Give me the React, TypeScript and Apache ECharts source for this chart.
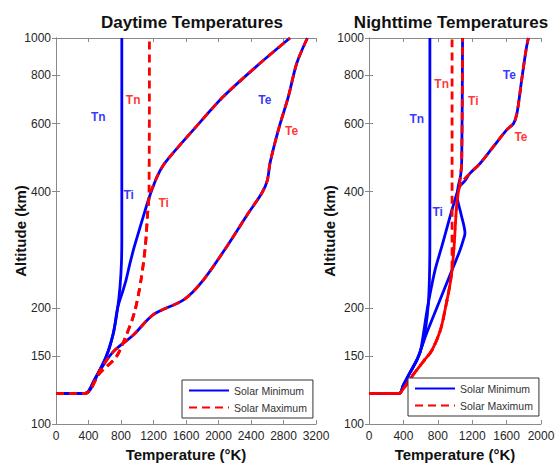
import React, { useEffect, useRef } from "react";
import * as echarts from "echarts";

const BLUE = "#0000ff";
const RED = "#ff0000";

// Each point: [temperature (K), altitude (km)]
const dayTnMin = [[0, 120], [360, 120], [472, 130], [615, 149], [706, 172], [759, 200], [788, 227], [805, 260], [810, 300], [810, 1000]];
const dayTiMin = [[0, 120], [360, 120], [472, 130], [615, 149], [706, 172], [759, 200], [825, 222], [862, 236], [911, 261], [964, 288], [1087, 352], [1150, 388], [1195, 412], [1250, 440], [1320, 468], [1403, 493], [1690, 578], [2060, 705], [2511, 860], [2880, 1000]];
const dayTeMin = [[0, 120], [357, 120], [542, 138], [706, 154], [952, 170], [1198, 192], [1575, 210], [1813, 236], [2101, 288], [2368, 352], [2532, 396], [2601, 428], [2634, 474], [2737, 578], [2860, 705], [2963, 860], [3094, 1000]];
const dayTnMax = [[0, 120], [360, 120], [533, 135], [739, 149], [841, 165], [964, 194], [1046, 236], [1099, 288], [1128, 352], [1145, 400], [1150, 1000]];
const dayTiMax = [[0, 120], [360, 120], [533, 135], [739, 149], [841, 165], [964, 194], [1046, 236], [1099, 288], [1128, 352], [1141, 378], [1165, 400], [1205, 418], [1250, 440], [1320, 468], [1403, 493], [1690, 578], [2060, 705], [2511, 860], [2880, 1000]];
const dayTeMax = [[0, 120], [357, 120], [542, 138], [706, 154], [952, 170], [1198, 192], [1575, 210], [1813, 236], [2101, 288], [2368, 352], [2532, 396], [2601, 428], [2634, 474], [2737, 578], [2860, 705], [2963, 860], [3094, 1000]];

const nightTnMin = [[0, 120], [350, 120], [400, 126], [470, 135], [560, 147], [620, 160], [660, 178], [690, 205], [703, 240], [708, 300], [708, 1000]];
const nightTiMin = [[0, 120], [350, 120], [400, 126], [470, 135], [560, 147], [620, 160], [671, 172], [789, 200], [964, 250], [1058, 282], [1097, 300], [1116, 312], [1070, 350], [1025, 390], [1040, 415], [1065, 440], [1078, 480], [1088, 1000]];
const nightTeMin = [[0, 120], [350, 120], [400, 126], [470, 135], [560, 147], [600, 155], [680, 200], [767, 250], [834, 282], [1045, 410], [1110, 425], [1174, 446], [1291, 473], [1446, 523], [1601, 578], [1680, 600], [1715, 630], [1740, 680], [1775, 778], [1826, 931], [1853, 1000]];
const nightTnMax = [[0, 120], [350, 120], [390, 122.5], [523, 135], [640, 146], [730, 155], [830, 175], [891, 201], [942, 230], [965, 255], [966, 300], [966, 1000]];
const nightTiMax = [[0, 120], [350, 120], [390, 122.5], [523, 135], [640, 146], [730, 155], [830, 175], [891, 201], [942, 230], [965, 250], [990, 290], [1005, 330], [1020, 370], [1040, 400], [1060, 430], [1078, 480], [1088, 1000]];
const nightTeMax = [[0, 120], [350, 120], [390, 122.5], [523, 135], [640, 146], [730, 155], [830, 175], [891, 201], [942, 230], [965, 250], [990, 290], [1005, 330], [1020, 370], [1040, 400], [1070, 420], [1174, 446], [1291, 473], [1446, 523], [1601, 578], [1680, 600], [1715, 630], [1740, 680], [1775, 778], [1826, 931], [1853, 1000]];

// curve labels: [text, temperature, altitude, which]
const dayLabels: [string, number, number, string][] = [
  ["Tn", 520, 625, "min"], ["Tn", 950, 690, "max"],
  ["Ti", 895, 392, "min"], ["Ti", 1325, 374, "max"],
  ["Te", 2570, 690, "min"], ["Te", 2900, 575, "max"],
];
const nightLabels: [string, number, number, string][] = [
  ["Tn", 555, 615, "min"], ["Tn", 845, 760, "max"],
  ["Ti", 799, 355, "min"], ["Ti", 1213, 687, "max"],
  ["Te", 1631, 802, "min"], ["Te", 1767, 555, "max"],
];

const altTicks = [100, 150, 200, 400, 600, 800, 1000];
const dayTempMax = 3200;
const nightTempMax = 2000;
const tempStep = 400;
const legendNames = ["Solar Minimum", "Solar Maximum"];
const titles = ["Daytime Temperatures", "Nighttime Temperatures"];

const FONT = "'Liberation Sans', Arial, Helvetica, sans-serif";

export default function App() {
  const ref = useRef<HTMLDivElement>(null);
  useEffect(() => {
    if (!ref.current) return;
    const chart = echarts.init(ref.current, null, { renderer: "svg" });

    const grids = [
      { left: 56, top: 38, width: 260, height: 386 },
      { left: 369, top: 38, width: 172, height: 386 },
    ];
    const axisLineStyle = { color: "#8a8a8a", width: 1 };
    const labelColor = "#262626";

    const xAxes: any[] = [];
    const yAxes: any[] = [];
    [dayTempMax, nightTempMax].forEach((mx, g) => {
      xAxes.push({
        type: "value", gridIndex: g, min: 0, max: mx, interval: tempStep, position: "bottom",
        name: "Temperature (°K)", nameLocation: "middle", nameGap: 23, nameMoveOverlap: false,
        nameTextStyle: { fontFamily: FONT, fontSize: 15, fontWeight: "bold", color: "#111" },
        axisLine: { show: true, lineStyle: axisLineStyle },
        axisTick: { show: true, inside: true, length: 4, lineStyle: axisLineStyle },
        axisLabel: { show: true, margin: 6, fontFamily: FONT, fontSize: 12, color: labelColor, hideOverlap: false, showMinLabel: true, showMaxLabel: true, formatter: (v: number) => String(v) },
        splitLine: { show: false },
      });
      xAxes.push({
        type: "value", gridIndex: g, min: 0, max: mx, interval: tempStep, position: "top",
        axisLine: { show: true, lineStyle: axisLineStyle },
        axisTick: { show: true, inside: true, length: 4, lineStyle: axisLineStyle },
        axisLabel: { show: false },
        splitLine: { show: false },
      });
      yAxes.push({
        type: "log", logBase: 10, gridIndex: g, min: 100, max: 1000, position: "left",
        name: "Altitude (km)", nameLocation: "middle", nameRotate: 90, nameGap: g === 0 ? 28 : 32, nameMoveOverlap: false,
        nameTextStyle: { fontFamily: FONT, fontSize: 15, fontWeight: "bold", color: "#111" },
        axisLine: { show: true, lineStyle: axisLineStyle },
        axisTick: { show: true, inside: true, length: 4, lineStyle: axisLineStyle, customValues: altTicks },
        axisLabel: { show: true, margin: 5, fontFamily: FONT, fontSize: 12, color: labelColor, customValues: altTicks, formatter: (v: number) => String(Math.round(v)) },
        splitLine: { show: false },
      });
      yAxes.push({
        type: "log", logBase: 10, gridIndex: g, min: 100, max: 1000, position: "right",
        axisLine: { show: true, lineStyle: axisLineStyle },
        axisTick: { show: true, inside: true, length: 4, lineStyle: axisLineStyle, customValues: altTicks },
        axisLabel: { show: false },
        splitLine: { show: false },
      });
    });

    const line = (name: string, data: number[][], g: number, dashed: boolean, dashOffset = 0) => ({
      type: "line", name, data, xAxisIndex: g * 2, yAxisIndex: g * 2,
      symbol: "none", showSymbol: false, silent: true, clip: true, smooth: 0.3,
      lineStyle: { color: dashed ? RED : BLUE, width: 2.8, type: dashed ? [8, 5] : "solid", dashOffset },
      itemStyle: { color: dashed ? RED : BLUE },
    });

    const labelSeries = (labels: [string, number, number, string][], g: number) => ({
      type: "scatter", xAxisIndex: g * 2, yAxisIndex: g * 2, symbolSize: 0, silent: true, z: 10,
      data: labels.map(([t, x, y, w]) => ({
        value: [x, y], name: t,
        label: { show: true, position: "inside", formatter: t, color: w === "min" ? BLUE : RED, fontFamily: FONT, fontSize: 12, fontWeight: "bold" },
      })),
    });

    const series: any[] = [
      line(legendNames[0], dayTnMin, 0, false),
      line(legendNames[0], dayTiMin, 0, false),
      line(legendNames[0], dayTeMin, 0, false),
      line(legendNames[1], dayTnMax, 0, true),
      line(legendNames[1], dayTiMax, 0, true),
      line(legendNames[1], dayTeMax, 0, true),
      line(legendNames[0], nightTnMin, 1, false),
      line(legendNames[0], nightTiMin, 1, false),
      line(legendNames[0], nightTeMin, 1, false),
      line(legendNames[1], nightTnMax, 1, true),
      line(legendNames[1], nightTiMax, 1, true, 6.5),
      line(legendNames[1], nightTeMax, 1, true),
      labelSeries(dayLabels, 0),
      labelSeries(nightLabels, 1),
    ];

    const legendBase = {
      data: legendNames, orient: "vertical", itemWidth: 40, itemHeight: 10, itemGap: 6,
      padding: [5, 6, 5, 6], borderColor: "#333", borderWidth: 1, backgroundColor: "#fff",
      itemStyle: { opacity: 0 },
      textStyle: { fontFamily: FONT, fontSize: 10.5, color: "#333" }, selectedMode: false,
    };

    chart.setOption({
      animation: false,
      backgroundColor: "#fff",
      title: [
        { text: titles[0], left: 187, top: 9, textAlign: "center", textStyle: { fontFamily: FONT, fontSize: 17, fontWeight: "bold", color: "#111" } },
        { text: titles[1], left: 446, top: 9, textAlign: "center", textStyle: { fontFamily: FONT, fontSize: 17, fontWeight: "bold", color: "#111" } },
      ],
      grid: grids.map((g) => ({ ...g, containLabel: false, outerBoundsMode: "none" })),
      xAxis: xAxes,
      yAxis: yAxes,
      legend: [
        { ...legendBase, left: 182, top: 380 },
        { ...legendBase, left: 408, top: 378 },
      ],
      series,
    });

    return () => chart.dispose();
  }, []);

  return <div ref={ref} style={{ width: 556, height: 466, position: "absolute", left: 0, top: 0 }} />;
}
